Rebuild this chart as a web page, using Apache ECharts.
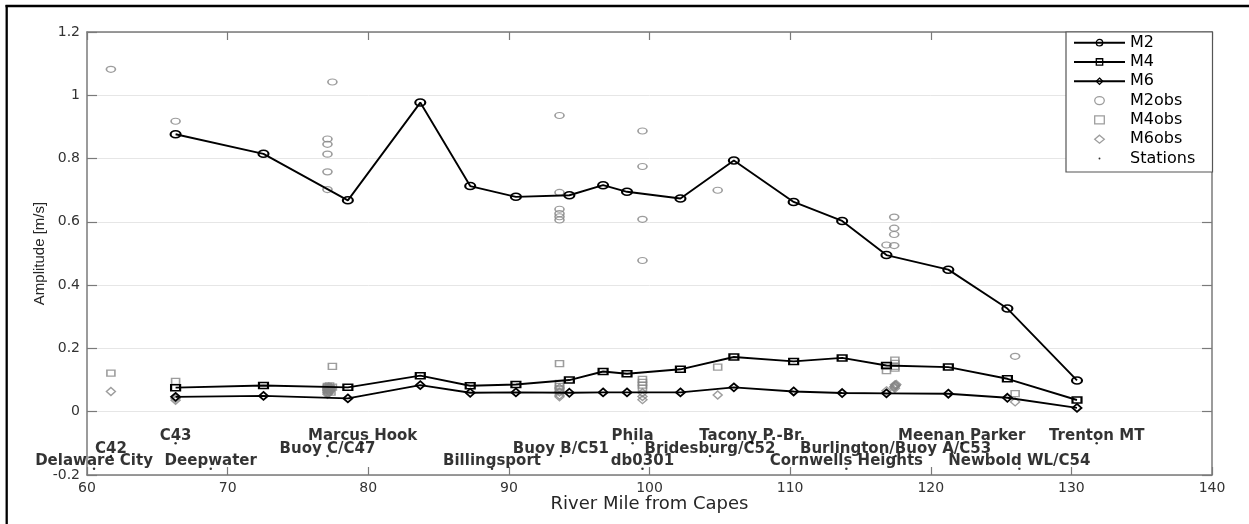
<!DOCTYPE html>
<html>
<head>
<meta charset="utf-8">
<script src="https://cdn.jsdelivr.net/npm/echarts@6/dist/echarts.min.js"></script>
<style>
  html, body { margin: 0; padding: 0; background: #fff; }
  #chart { width: 1249px; height: 524px; }
</style>
</head>
<body>
<div id="chart"></div>
<script>
// Tidal harmonic amplitudes along the river (river mile from the capes)

// Model output at the model stations
const modelMiles = [66.3, 72.55, 78.55, 83.7, 87.25, 90.5, 94.3, 96.7, 98.4, 102.2, 106.0, 110.25, 113.7, 116.85, 121.25, 125.45, 130.4];
const m2Model = [0.877, 0.815, 0.668, 0.977, 0.713, 0.679, 0.684, 0.716, 0.695, 0.674, 0.794, 0.663, 0.603, 0.495, 0.449, 0.326, 0.099];
const m4Model = [0.076, 0.083, 0.077, 0.114, 0.082, 0.086, 0.100, 0.127, 0.120, 0.134, 0.173, 0.159, 0.170, 0.146, 0.141, 0.104, 0.037];
const m6Model = [0.047, 0.050, 0.042, 0.084, 0.060, 0.061, 0.060, 0.061, 0.061, 0.061, 0.077, 0.064, 0.059, 0.058, 0.057, 0.044, 0.012];

// Observed amplitudes
const m2ObsMiles = [61.7, 66.3, 77.45, 77.1, 77.1, 77.1, 77.1, 77.1, 93.6, 93.6, 93.6, 93.6, 93.6, 93.6, 99.5, 99.5, 99.5, 99.5, 104.85, 117.4, 117.4, 117.4, 117.4, 116.85, 126.0];
const m2Obs      = [1.082, 0.918, 1.042, 0.862, 0.845, 0.814, 0.758, 0.702, 0.936, 0.693, 0.640, 0.626, 0.616, 0.606, 0.887, 0.775, 0.608, 0.478, 0.700, 0.615, 0.580, 0.560, 0.525, 0.527, 0.175];

const m4ObsMiles = [61.7, 66.3, 77.45, 77.1, 77.1, 77.1, 77.1, 77.45, 77.25, 77.3, 77.2, 77.35, 93.6, 93.6, 93.6, 93.6, 93.6, 99.5, 99.5, 99.5, 99.5, 104.85, 116.85, 116.85, 117.45, 117.45, 117.45, 117.45, 126.0];
const m4Obs      = [0.122, 0.096, 0.143, 0.080, 0.077, 0.074, 0.070, 0.078, 0.082, 0.075, 0.068, 0.062, 0.152, 0.090, 0.080, 0.072, 0.065, 0.102, 0.093, 0.084, 0.075, 0.141, 0.145, 0.130, 0.163, 0.153, 0.143, 0.138, 0.057];

const m6ObsMiles = [61.7, 66.3, 66.3, 77.1, 77.1, 77.1, 77.1, 77.2, 77.3, 77.25, 77.15, 77.35, 93.6, 93.6, 93.6, 93.6, 99.5, 99.5, 99.5, 104.85, 116.85, 117.45, 117.45, 117.45, 117.5, 117.4, 117.55, 126.0];
const m6Obs      = [0.064, 0.036, 0.042, 0.072, 0.066, 0.060, 0.055, 0.078, 0.070, 0.064, 0.058, 0.074, 0.075, 0.062, 0.052, 0.047, 0.060, 0.048, 0.038, 0.053, 0.066, 0.085, 0.080, 0.074, 0.083, 0.078, 0.086, 0.031];

// Station names, their river mile and the label row they sit on
const stationNames  = ['Delaware City', 'C42', 'C43', 'Deepwater', 'Buoy C/C47', 'Marcus Hook', 'Billingsport', 'Buoy B/C51', 'Phila', 'db0301', 'Bridesburg/C52', 'Tacony P.-Br.', 'Cornwells Heights', 'Burlington/Buoy A/C53', 'Meenan Parker', 'Newbold WL/C54', 'Trenton MT'];
const stationMiles  = [60.5, 61.7, 66.3, 68.8, 77.1, 79.6, 88.8, 93.7, 98.8, 99.5, 104.3, 107.3, 114.0, 117.5, 122.2, 126.3, 131.8];
const stationLevels = [-0.18, -0.14, -0.10, -0.18, -0.14, -0.10, -0.18, -0.14, -0.10, -0.18, -0.14, -0.10, -0.18, -0.14, -0.10, -0.18, -0.10];

// Axis ranges
const mileRange = [60, 140, 10];
const ampRange = [-0.2, 1.2, 0.2];

const pairs = (xs, ys) => xs.map((x, i) => [x, ys[i]]);

// Marker outlines (stretched to the requested width/height)
const ellipseSym = 'path://M0,5A6,5 0 1,1 12,5A6,5 0 1,1 0,5Z';
const boxSym = 'path://M0,0L12,0L12,10L0,10Z';
const diamondSym = 'path://M6,0L12,5L6,10L0,5Z';
const dotIcon = 'path://M0,0L0.01,0.01M10,10L10.01,10.01M3.8,5A1.2,1.2 0 1,1 6.2,5A1.2,1.2 0 1,1 3.8,5Z';

const axisGray = '#7a7a7a';
const labelFont = 'DejaVu Sans';
const gray = '#858585';

function modelLine(name, values, symbol, size) {
  return {
    name: name, type: 'line', data: pairs(modelMiles, values),
    symbol: symbol, symbolSize: size, showSymbol: true, symbolKeepAspect: false,
    lineStyle: { color: '#000', width: 1.9 },
    itemStyle: { color: 'rgba(0,0,0,0)', borderColor: '#000', borderWidth: 1.8 },
    emphasis: { disabled: true }, z: 3
  };
}

function obsScatter(name, xs, ys, symbol, size) {
  return {
    name: name, type: 'scatter', data: pairs(xs, ys),
    symbol: symbol, symbolSize: size,
    itemStyle: { color: 'rgba(0,0,0,0)', borderColor: gray, borderWidth: 1.4 },
    emphasis: { disabled: true }, z: 2
  };
}

const chart = echarts.init(document.getElementById('chart'), null, { renderer: 'canvas' });

chart.setOption({
  animation: false,
  backgroundColor: '#fff',
  textStyle: { fontFamily: labelFont },
  grid: { left: 87, right: 37, top: 32, bottom: 49, outerBoundsMode: 'none', containLabel: false },
  xAxis: [
    {
      type: 'value', position: 'bottom', min: mileRange[0], max: mileRange[1], interval: mileRange[2],
      name: 'River Mile from Capes', nameLocation: 'middle', nameGap: 20, nameMoveOverlap: false,
      nameTextStyle: { fontFamily: labelFont, fontSize: 18, color: '#262626' },
      axisLine: { show: true, onZero: false, lineStyle: { color: axisGray, width: 1.5 } },
      axisTick: { show: true, inside: true, length: 8, lineStyle: { color: axisGray, width: 1.2 } },
      axisLabel: { show: true, margin: 6, fontFamily: labelFont, fontSize: 14, color: '#333' },
      splitLine: { show: false }
    },
    {
      type: 'value', position: 'top', min: mileRange[0], max: mileRange[1], interval: mileRange[2],
      axisLine: { show: true, onZero: false, lineStyle: { color: axisGray, width: 1.5 } },
      axisTick: { show: true, inside: true, length: 8, lineStyle: { color: axisGray, width: 1.2 } },
      axisLabel: { show: false },
      splitLine: { show: false }
    }
  ],
  yAxis: [
    {
      type: 'value', position: 'left', min: ampRange[0], max: ampRange[1], interval: ampRange[2],
      name: 'Amplitude [m/s]', nameLocation: 'middle', nameGap: 40, nameRotate: 90, nameMoveOverlap: false,
      nameTextStyle: { fontFamily: 'Liberation Sans', fontSize: 15, color: '#262626' },
      axisLine: { show: true, onZero: false, lineStyle: { color: axisGray, width: 1.5 } },
      axisTick: { show: true, inside: true, length: 10, lineStyle: { color: axisGray, width: 1.2 } },
      axisLabel: { show: true, margin: 7, fontFamily: labelFont, fontSize: 14, color: '#333' },
      splitLine: { show: true, lineStyle: { color: '#e6e6e6', width: 1 } }
    },
    {
      type: 'value', position: 'right', min: ampRange[0], max: ampRange[1], interval: ampRange[2],
      axisLine: { show: true, onZero: false, lineStyle: { color: axisGray, width: 1.5 } },
      axisTick: { show: true, inside: true, length: 10, lineStyle: { color: axisGray, width: 1.2 } },
      axisLabel: { show: false },
      splitLine: { show: false }
    }
  ],
  legend: {
    show: true, orient: 'vertical', left: 1073, top: 33, padding: 0,
    itemGap: 0, itemWidth: 51, itemHeight: 8, selectedMode: false, z: 20,
    textStyle: { fontFamily: labelFont, fontSize: 16, lineHeight: 19.3, color: '#000' },
    itemStyle: { borderWidth: 1.3 },
    data: [
      { name: 'M2' }, { name: 'M4' }, { name: 'M6' },
      { name: 'M2obs' }, { name: 'M4obs' }, { name: 'M6obs' },
      { name: 'Stations', icon: dotIcon, itemStyle: { borderWidth: 0 } }
    ]
  },
  graphic: [
    { type: 'line', shape: { x1: 6.7, y1: 5, x2: 6.7, y2: 524 }, style: { stroke: '#000', lineWidth: 2.3 }, z: 30 },
    { type: 'line', shape: { x1: 5.5, y1: 6, x2: 1249, y2: 6 }, style: { stroke: '#000', lineWidth: 2.3 }, z: 30 },
    { type: 'rect', shape: { x: 1066, y: 32, width: 146.5, height: 140 }, style: { fill: '#fff', stroke: '#555', lineWidth: 1.2 }, z: 10 }
  ],
  series: [
    modelLine('M2', m2Model, ellipseSym, [10, 7]),
    modelLine('M4', m4Model, boxSym, [9, 6]),
    modelLine('M6', m6Model, diamondSym, [9, 8]),
    obsScatter('M2obs', m2ObsMiles, m2Obs, ellipseSym, [9, 6]),
    obsScatter('M4obs', m4ObsMiles, m4Obs, boxSym, [8, 6]),
    obsScatter('M6obs', m6ObsMiles, m6Obs, diamondSym, [9, 8]),
    {
      name: 'Stations', type: 'scatter',
      data: stationNames.map((n, i) => ({ name: n, value: [stationMiles[i], stationLevels[i]] })),
      symbol: 'circle', symbolSize: 2.5,
      itemStyle: { color: '#000' },
      label: {
        show: true, position: 'top', distance: 0, offset: [0, 1.5], formatter: '{b}',
        fontFamily: labelFont, fontWeight: 'bold', fontSize: 15, color: '#000'
      },
      emphasis: { disabled: true }, z: 5
    }
  ]
});
</script>
</body>
</html>
